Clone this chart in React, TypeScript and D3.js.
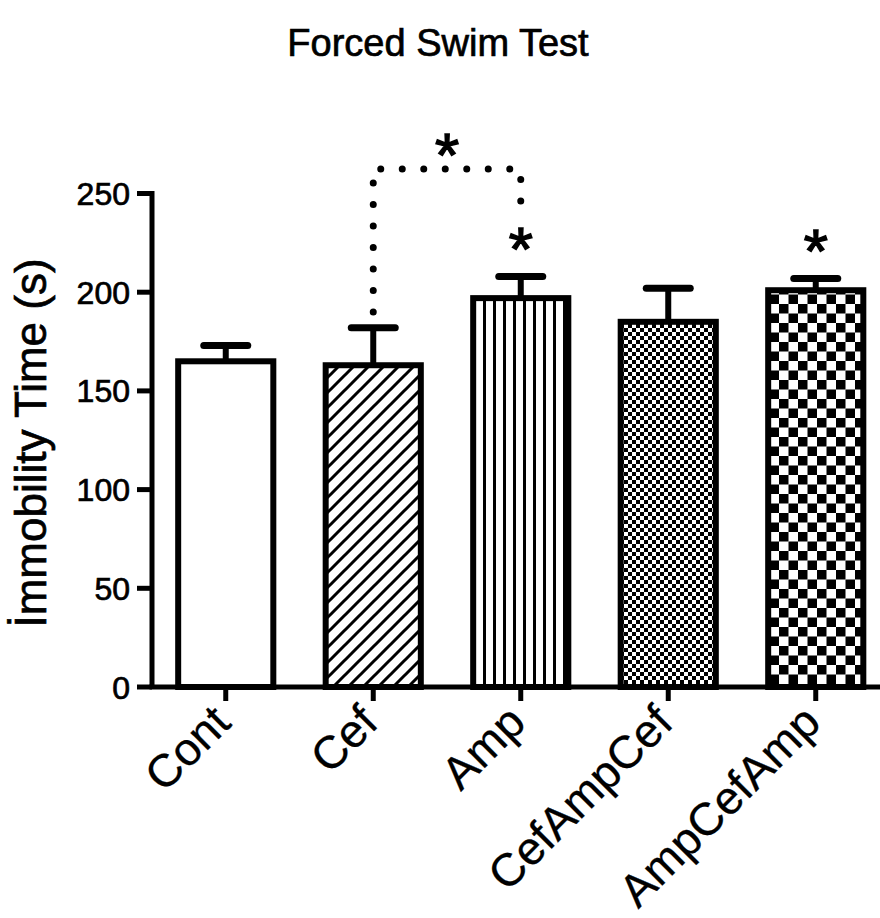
import React from "react";
import * as d3 from "d3";

const categories = ["Cont", "Cef", "Amp", "CefAmpCef", "AmpCefAmp"];
const means = [165, 163, 197, 185, 201];
const errors = [8, 19, 11, 17, 6];
const fills = ["white", "url(#hatch)", "url(#vlines)", "url(#fineCheck)", "url(#coarseCheck)"];
const starred = [false, false, true, false, true];
const yTicks = [0, 50, 100, 150, 200, 250];
const bracketPair = ["Cef", "Amp"];
const title = "Forced Swim Test";
const yLabel = "İmmobility Time (s)";

const W = 880;
const H = 918;
const FONT = "'Liberation Sans', Arial, Helvetica, sans-serif";

export default function App() {
  const x = d3
    .scaleBand<string>()
    .domain(categories)
    .range([152, 889.5])
    .paddingInner(0.355)
    .paddingOuter(0.1775);
  const y = d3.scaleLinear().domain([0, 250]).range([687, 193.5]);
  const cx = (c: string) => (x(c) as number) + x.bandwidth() / 2;
  const bw = x.bandwidth();

  const bx1 = cx(bracketPair[0]);
  const bx2 = cx(bracketPair[1]);
  const bTop = 169;
  const bracketPath = d3.path();
  bracketPath.moveTo(bx1, 312);
  bracketPath.lineTo(bx1, bTop);
  bracketPath.lineTo(bx2, bTop);
  bracketPath.lineTo(bx2, 210);

  const textStyle = { fontFamily: FONT, fill: "black", stroke: "black", strokeWidth: 0.7 };

  return (
    <svg
      width={W}
      height={H}
      viewBox={`0 0 ${W} ${H}`}
      style={{ position: "absolute", left: 0, top: 0, display: "block", background: "white" }}
    >
      <defs>
        <pattern id="hatch" patternUnits="userSpaceOnUse" width={15} height={15}>
          <rect width={15} height={15} fill="white" />
          <path
            d="M0,15 L15,0 M-4,4 L4,-4 M11,19 L19,11"
            stroke="black"
            strokeWidth={3}
          />
        </pattern>
        <pattern id="vlines" patternUnits="userSpaceOnUse" width={10} height={10}>
          <rect width={10} height={10} fill="white" />
          <rect x={3} width={3} height={10} fill="black" />
        </pattern>
        <pattern id="fineCheck" patternUnits="userSpaceOnUse" width={8} height={8}>
          <rect width={8} height={8} fill="white" />
          <rect width={4} height={4} fill="black" />
          <rect x={4} y={4} width={4} height={4} fill="black" />
        </pattern>
        <pattern id="coarseCheck" patternUnits="userSpaceOnUse" width={19} height={19}>
          <rect width={19} height={19} fill="white" />
          <rect width={9.5} height={9.5} fill="black" />
          <rect x={9.5} y={9.5} width={9.5} height={9.5} fill="black" />
        </pattern>
      </defs>

      <text x={438} y={56} textAnchor="middle" fontSize={38} {...textStyle}>
        {title}
      </text>

      {/* error bars */}
      {categories.map((c, i) => (
        <g key={"e" + c}>
          <line
            x1={cx(c)}
            x2={cx(c)}
            y1={y(means[i])}
            y2={y(means[i] + errors[i])}
            stroke="black"
            strokeWidth={6}
          />
          <line
            x1={cx(c) - 22}
            x2={cx(c) + 22}
            y1={y(means[i] + errors[i])}
            y2={y(means[i] + errors[i])}
            stroke="black"
            strokeWidth={7}
            strokeLinecap="round"
          />
        </g>
      ))}

      {/* bars */}
      {categories.map((c, i) => (
        <rect
          key={"b" + c}
          x={x(c)}
          y={y(means[i])}
          width={bw}
          height={y(0) - y(means[i])}
          fill={fills[i]}
          stroke="black"
          strokeWidth={6}
        />
      ))}

      {/* y axis */}
      <line x1={152} x2={152} y1={y(250) - 2.5} y2={y(0)} stroke="black" strokeWidth={5} />
      {yTicks.map((t) => (
        <g key={"yt" + t}>
          <line x1={137} x2={152} y1={y(t)} y2={y(t)} stroke="black" strokeWidth={5} />
          <text x={130} y={y(t)} dy="0.36em" textAnchor="end" fontSize={32} {...textStyle}>
            {t}
          </text>
        </g>
      ))}
      <text transform={`translate(46, 443) rotate(-90)`} textAnchor="middle" fontSize={44} {...textStyle}>
        {yLabel}
      </text>

      {/* x axis */}
      <line x1={149.5} x2={W} y1={y(0)} y2={y(0)} stroke="black" strokeWidth={5} />
      {categories.map((c) => (
        <g key={"xt" + c}>
          <line x1={cx(c)} x2={cx(c)} y1={y(0)} y2={y(0) + 14} stroke="black" strokeWidth={5} />
          <text
            transform={`translate(${cx(c) + 7}, ${y(0) + 38}) rotate(-45)`}
            textAnchor="end"
            fontSize={46}
            {...textStyle}
            strokeWidth={0.3}
          >
            {c}
          </text>
        </g>
      ))}

      {/* significance */}
      <path
        d={bracketPath.toString()}
        fill="none"
        stroke="black"
        strokeWidth={7}
        strokeLinecap="round"
        strokeDasharray="0 21.5"
      />
      <text x={(bx1 + bx2) / 2} y={176} textAnchor="middle" fontSize={62} {...textStyle} strokeWidth={1.5}>
        *
      </text>
      {categories.map((c, i) =>
        starred[i] ? (
          <text
            key={"s" + c}
            x={cx(c)}
            y={y(means[i] + errors[i]) - 6}
            textAnchor="middle"
            fontSize={62}
            {...textStyle}
            strokeWidth={1.5}
          >
            *
          </text>
        ) : null
      )}
    </svg>
  );
}
